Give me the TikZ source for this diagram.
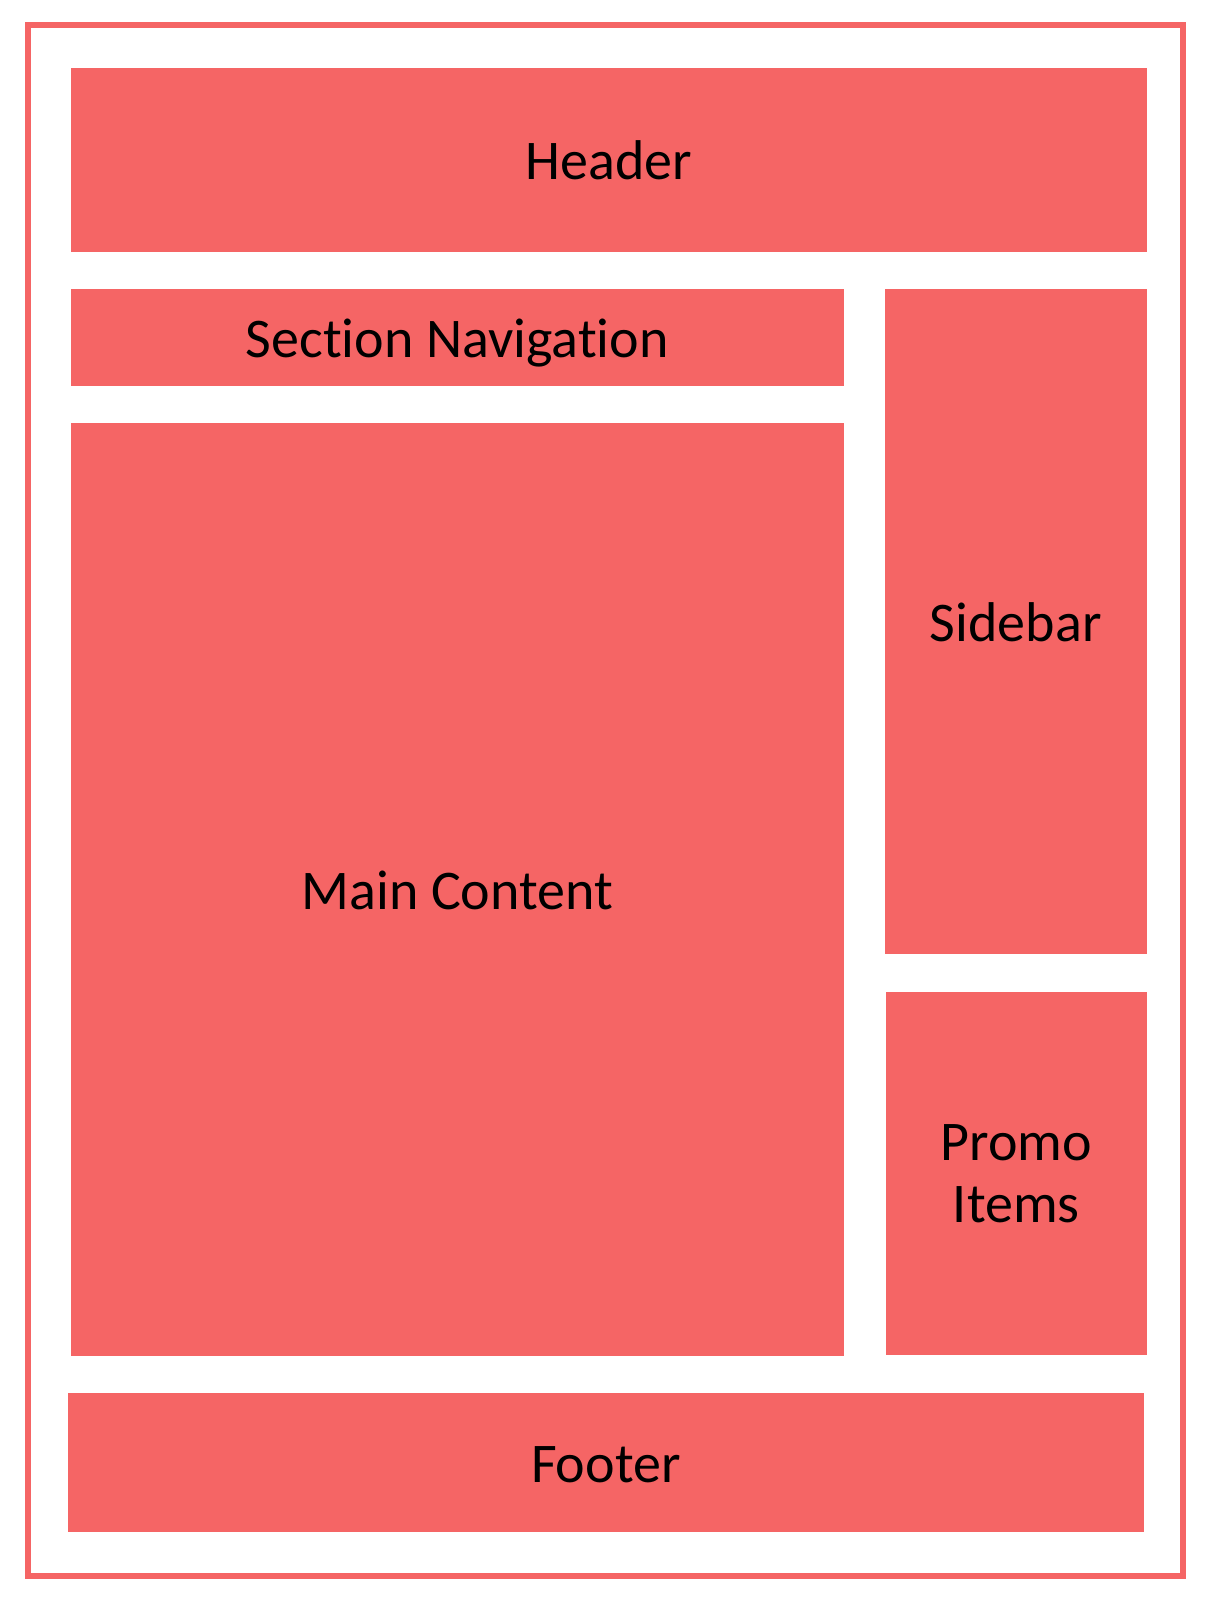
\documentclass[tikz,border=0pt]{standalone}
\usepackage{fontspec}
\setmainfont{Carlito}[Ligatures=NoCommon]
\definecolor{boxred}{HTML}{F56565}
\begin{document}
\begin{tikzpicture}[x=1pt,y=-1pt,
  region/.style={fill=boxred, draw=boxred, line width=0.6pt, inner sep=0pt, anchor=north west,
    font=\fontsize{56}{62}\selectfont, text=black, align=center},
  oneline/.style={text height=40pt, text depth=0pt},
  frame/.style={draw=boxred, line width=6pt}]
\useasboundingbox (0,0) rectangle (1214,1600);
\draw[frame] (28,25) rectangle (1183,1575.5);
\node[region, oneline, minimum width=1075pt, minimum height=183pt] (header) at (71,68) {Header};
\node[region, oneline, minimum width=772pt, minimum height=96pt] (secnav) at (71,289) {Section Navigation};
\node[region, oneline, minimum width=772pt, minimum height=932pt] (main) at (71,423) {Main Content};
\node[region, oneline, minimum width=261pt, minimum height=664pt] (sidebar) at (885,289) {Sidebar};
\node[region, minimum width=260pt, minimum height=362pt] (promo) at (886,992) {Promo\\Items};
\node[region, oneline, minimum width=1075pt, minimum height=138pt] (footer) at (68,1393) {Footer};
\end{tikzpicture}
\end{document}
